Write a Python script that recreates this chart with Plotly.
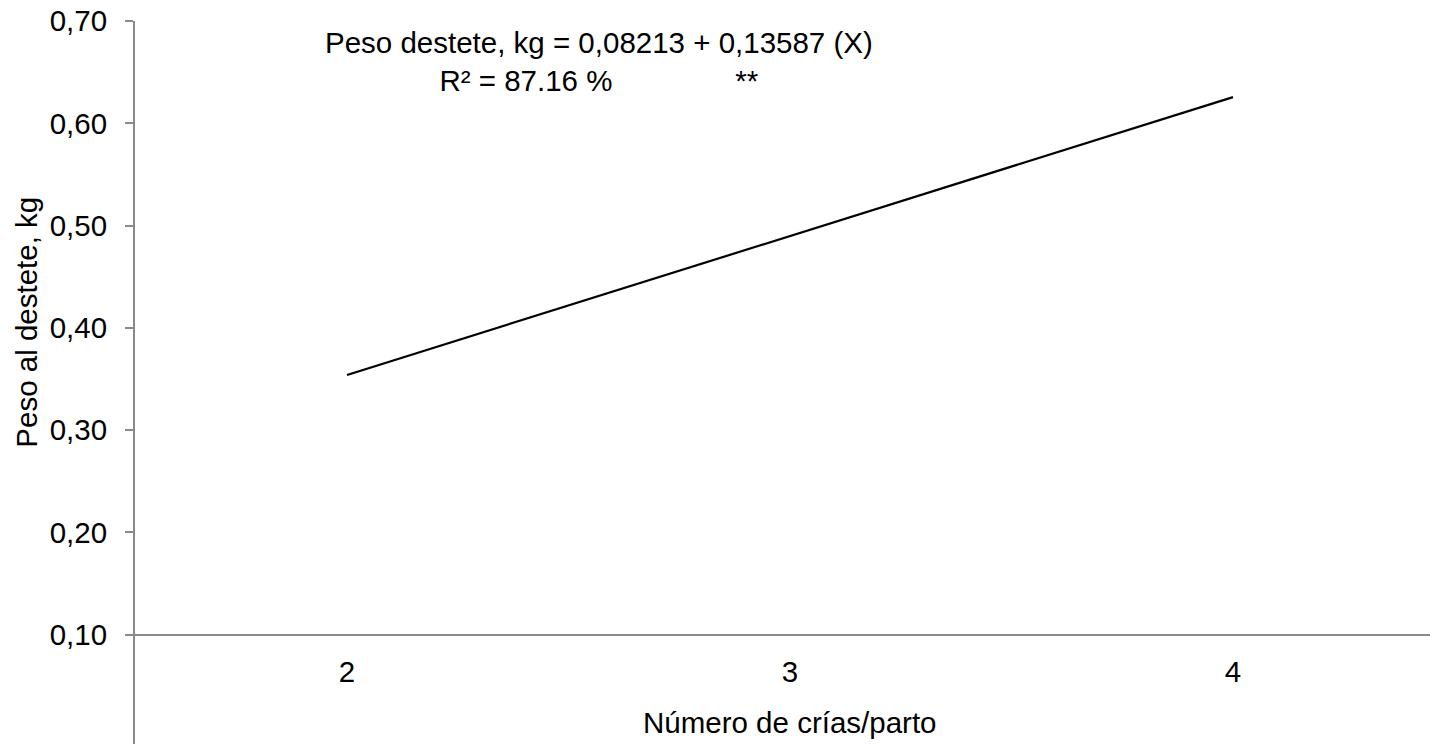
import plotly.graph_objects as go

# Regression line: weaning weight vs litter size
crias = [2, 3, 4]
peso = [0.3539, 0.4897, 0.6256]

y_ticks = [0.1, 0.2, 0.3, 0.4, 0.5, 0.6, 0.7]
x_ticks = [2, 3, 4]

ecuacion = "Peso destete, kg = 0,08213 + 0,13587 (X)"
r2_text = "R² = 87.16 %"
signif = "**"

FONT = "Arial, Liberation Sans, sans-serif"
FS = 29.5
AXIS_GREY = "#898989"

y_range = [-0.007, 0.70]
x_range = [1.5214, 4.4447]
x_axis_at = 0.10
x_pos = (x_axis_at - y_range[0]) / (y_range[1] - y_range[0])

fig = go.Figure()
fig.add_trace(go.Scatter(
    x=crias, y=peso, mode="lines",
    line=dict(color="black", width=2.2),
    showlegend=False, hoverinfo="skip",
))

fig.update_layout(
    width=1430, height=744,
    margin=dict(l=135, r=0, t=21, b=0),
    paper_bgcolor="white", plot_bgcolor="white",
    separators=",.",
    font=dict(family=FONT, size=FS, color="black"),
    xaxis=dict(
        range=x_range, tickvals=x_ticks, ticktext=[str(v) for v in x_ticks],
        showgrid=False, zeroline=False, showline=True,
        linecolor=AXIS_GREY, linewidth=2,
        ticks="", anchor="free", position=x_pos,
        ticklabelstandoff=11,
        tickfont=dict(family=FONT, size=FS, color="black"),
    ),
    yaxis=dict(
        range=y_range, tickvals=y_ticks, tickformat=".2f",
        showgrid=False, zeroline=False, showline=True,
        linecolor=AXIS_GREY, linewidth=2,
        ticks="outside", ticklen=8, tickcolor=AXIS_GREY, tickwidth=2,
        ticklabelstandoff=12,
        tickfont=dict(family=FONT, size=FS, color="black"),
    ),
)

fig.add_annotation(
    text="Peso al destete, kg", textangle=-90,
    xref="paper", x=0, xshift=-108, yref="y", y=0.405,
    showarrow=False, xanchor="center", yanchor="middle",
    font=dict(family=FONT, size=FS, color="black"),
)
fig.add_annotation(
    text="Número de crías/parto",
    xref="x", x=3, yref="paper", y=(744 - 722) / 723,
    showarrow=False, xanchor="center", yanchor="middle",
    font=dict(family=FONT, size=FS, color="black"),
)

# Regression equation box, centred, with the significance mark on line two
gap = "\u00a0" * 15
fig.add_annotation(
    text=ecuacion + "<br>" + r2_text + gap + signif,
    xref="paper", x=(599 - 135) / 1295,
    yref="paper", y=(744 - 61) / 723,
    showarrow=False, xanchor="center", yanchor="middle", align="center",
    font=dict(family=FONT, size=FS, color="black"),
)

fig.write_html("out.html")
